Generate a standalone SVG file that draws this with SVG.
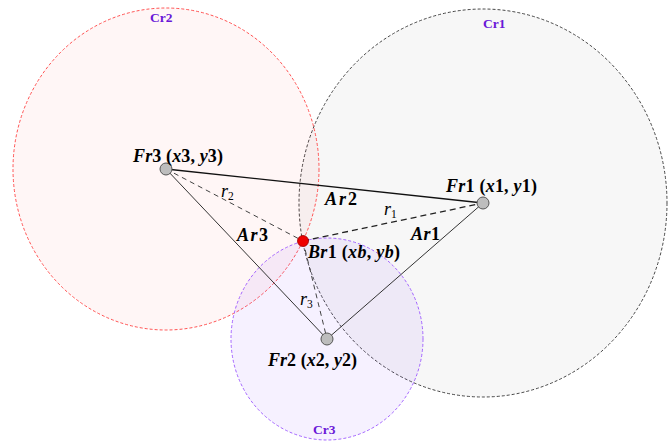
<svg xmlns="http://www.w3.org/2000/svg" width="671" height="444" viewBox="0 0 671 444">
<style>
.lbl{font-family:"Liberation Serif",serif;font-weight:bold;font-size:18px;fill:#000}
.it{font-style:italic}
.cr{font-family:"Liberation Serif",serif;font-weight:bold;font-size:13.5px;fill:#6a18d8}
.rl{font-family:"Liberation Serif",serif;font-size:18px;font-style:italic;fill:#000}
.sub{font-size:11.5px;font-style:normal}
.node{fill:#bdbdbd;stroke:#555;stroke-width:1}
</style>
<rect width="671" height="444" fill="#fff"/>
<g id="Cr1">
<ellipse cx="483" cy="203" rx="184" ry="194" fill="#000" fill-opacity="0.03" stroke="#333" stroke-width="0.9" stroke-dasharray="3,2"/>
<text class="cr" x="483" y="28">Cr1</text>
</g>
<g id="Cr2">
<ellipse cx="166" cy="169" rx="153" ry="161" fill="#ff0000" fill-opacity="0.035" stroke="#ff4040" stroke-width="0.9" stroke-dasharray="3,2"/>
<text class="cr" x="150" y="22">Cr2</text>
</g>
<g id="Cr3">
<ellipse cx="327" cy="339" rx="96" ry="101" fill="#8040ff" fill-opacity="0.075" stroke="#9a55ff" stroke-width="0.9" stroke-dasharray="3,2"/>
<text class="cr" x="313" y="434">Cr3</text>
</g>
<g id="connectors">
<line x1="166" y1="169" x2="483" y2="203" stroke="#111" stroke-width="1.3"/>
<line x1="166" y1="169" x2="327" y2="339" stroke="#333" stroke-width="1"/>
<line x1="483" y1="203" x2="327" y2="339" stroke="#333" stroke-width="1"/>
<line x1="166" y1="169" x2="303" y2="241" stroke="#444" stroke-width="1" stroke-dasharray="5,4"/>
<line x1="303" y1="241" x2="483" y2="203" stroke="#222" stroke-width="1.3" stroke-dasharray="6,4"/>
<line x1="303" y1="241" x2="327" y2="339" stroke="#444" stroke-width="1" stroke-dasharray="5,4"/>
<text class="lbl it" x="325" y="205" textLength="32">Ar<tspan font-style="normal">2</tspan></text>
<text class="lbl it" x="237" y="241" textLength="31">Ar<tspan font-style="normal">3</tspan></text>
<text class="lbl it" x="411" y="240" textLength="29">Ar<tspan font-style="normal">1</tspan></text>
<text class="rl" x="221" y="197">r<tspan class="sub" dy="3">2</tspan></text>
<text class="rl" x="384" y="215">r<tspan class="sub" dy="3">1</tspan></text>
<text class="rl" x="300" y="305">r<tspan class="sub" dy="3">3</tspan></text>
</g>
<g id="Fr3">
<circle class="node" cx="166" cy="169" r="6"/>
<text class="lbl" x="133" y="162" textLength="90"><tspan class="it">Fr</tspan>3 (<tspan class="it">x</tspan>3, <tspan class="it">y</tspan>3)</text>
</g>
<g id="Fr1">
<circle class="node" cx="483" cy="203" r="6"/>
<text class="lbl" x="446" y="192" textLength="91"><tspan class="it">Fr</tspan>1 (<tspan class="it">x</tspan>1, <tspan class="it">y</tspan>1)</text>
</g>
<g id="Fr2">
<circle class="node" cx="327" cy="339" r="6"/>
<text class="lbl" x="268" y="366" textLength="89"><tspan class="it">Fr</tspan>2 (<tspan class="it">x</tspan>2, <tspan class="it">y</tspan>2)</text>
</g>
<g id="Br1">
<circle cx="303" cy="241" r="5.5" fill="#ee0000" stroke="#900" stroke-width="0.8"/>
<text class="lbl" x="308" y="258" textLength="92"><tspan class="it">Br</tspan>1 (<tspan class="it">xb</tspan>, <tspan class="it">yb</tspan>)</text>
</g>
</svg>
